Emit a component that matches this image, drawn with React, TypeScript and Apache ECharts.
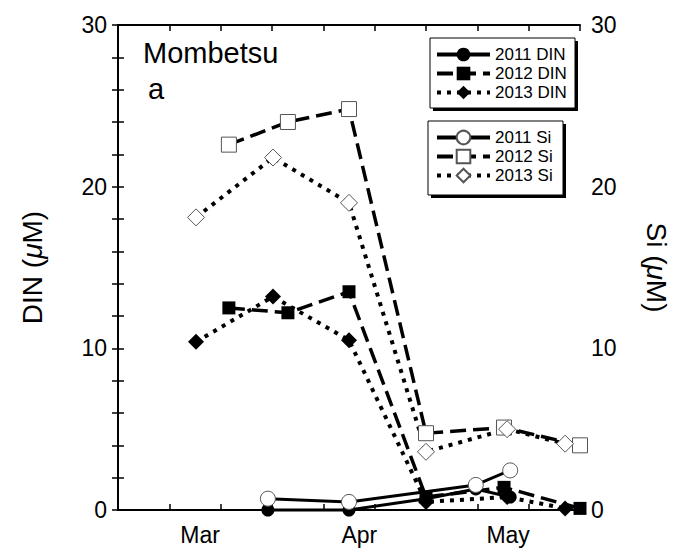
import React, { useEffect, useRef } from 'react';
import * as echarts from 'echarts';

const FONT = '"Liberation Sans", Arial, Helvetica, sans-serif';

// x values are days counted from 1 March
const monthNames = ['Mar', 'Apr', 'May'];
const monthCentres = [16, 47, 76];

const yTicks = [0, 10, 20, 30];

const days2011Din = [29.2, 45, 60, 69.7, 76.4];
const din2011 = [0, 0, 0.7, 1.3, 0.8];
const days2011Si = [29.2, 45, 69.7, 76.4];
const si2011 = [0.7, 0.5, 1.55, 2.45];

const days2012 = [21.6, 33.1, 45, 60, 75.2, 90];
const din2012 = [12.5, 12.2, 13.5, 0.8, 1.4, 0.1];
const si2012 = [22.6, 24.0, 24.8, 4.75, 5.1, 4.0];

const days2013 = [15.2, 30.2, 45, 60, 75.8, 87.1];
const din2013 = [10.4, 13.2, 10.5, 0.5, 0.8, 0.1];
const si2013 = [18.1, 21.8, 19.0, 3.6, 5.0, 4.1];

const dinNames = ['2011 DIN', '2012 DIN', '2013 DIN'];
const siNames = ['2011 Si', '2012 Si', '2013 Si'];

const pairs = (xs: number[], ys: number[]) => xs.map((x, i) => [x, ys[i]]);

const SOLID = 'solid';
const DASHED = [16, 7];
const DOTTED = [4, 6];

function lineSeries(
  name: string,
  data: number[][],
  axis: number,
  symbol: string,
  size: number,
  dash: any,
  width: number,
  open: boolean
) {
  return {
    name,
    type: 'line',
    xAxisIndex: 0,
    yAxisIndex: axis,
    data,
    symbol,
    symbolSize: size,
    showSymbol: true,
    clip: false,
    lineStyle: { color: '#000', width, type: dash, cap: 'butt' },
    itemStyle: open
      ? { color: '#fff', borderColor: '#555', borderWidth: 1, opacity: 1 }
      : { color: '#000', borderColor: '#000', borderWidth: 0, opacity: 1 },
    emphasis: { disabled: true },
    z: open ? 3 : 2,
  };
}

const yAxisBase = {
  type: 'value',
  min: yTicks[0],
  max: yTicks[yTicks.length - 1],
  interval: yTicks[1] - yTicks[0],
  axisLine: { show: true, lineStyle: { color: '#000', width: 2 } },
  axisTick: { show: true, inside: true, length: 6, lineStyle: { color: '#000', width: 1.5 } },
  minorTick: { show: true, splitNumber: 5, length: 6, lineStyle: { color: '#000', width: 1.5 } },
  splitLine: { show: false },
  axisLabel: { color: '#000', fontSize: 23, fontFamily: FONT, margin: 11 },
  nameLocation: 'middle',
  nameTextStyle: {
    color: '#000',
    fontSize: 28,
    fontFamily: FONT,
    rich: { i: { fontStyle: 'italic', fontSize: 28, fontFamily: FONT, color: '#000' } },
  },
};

const xAxisBase = {
  type: 'value',
  min: 0,
  max: 90,
  interval: 10,
  axisLine: { show: true, onZero: false, lineStyle: { color: '#000', width: 2 } },
  axisTick: { show: true, inside: true, length: 6, lineStyle: { color: '#000', width: 1.5 } },
  axisLabel: { show: false },
  splitLine: { show: false },
};

const legendBase = {
  orient: 'vertical',
  backgroundColor: 'transparent',
  borderWidth: 0,
  padding: 0,
  itemWidth: 53,
  itemHeight: 17,
  itemGap: 2,
  selectedMode: false,
  z: 10,
  lineStyle: { width: 4 },
  textStyle: { color: '#000', fontSize: 17, fontFamily: FONT },
};

// framed legend panel with a solid drop shadow
function legendFrame(x: number, y: number, w: number, h: number) {
  return [
    { type: 'rect', z: 1, shape: { x: x + 3, y: y + 3, width: w, height: h }, style: { fill: '#000' } },
    {
      type: 'rect',
      z: 2,
      shape: { x, y, width: w, height: h },
      style: { fill: '#fff', stroke: '#000', lineWidth: 1 },
    },
  ];
}

export default function App() {
  const ref = useRef<HTMLDivElement>(null);

  useEffect(() => {
    const chart = echarts.init(ref.current!, null, { renderer: 'svg' });
    const option: any = {
      animation: false,
      backgroundColor: '#fff',
      grid: { left: 118, top: 25, right: 98, bottom: 48, containLabel: false },
      xAxis: [
        { ...xAxisBase, position: 'bottom' },
        { ...xAxisBase, position: 'top' },
        {
          type: 'value',
          position: 'bottom',
          min: 0,
          max: 90,
          interval: 1,
          axisLine: { show: false },
          axisTick: { show: false },
          splitLine: { show: false },
          axisLabel: {
            show: true,
            color: '#000',
            fontSize: 23,
            fontFamily: FONT,
            margin: 13,
            formatter: (v: number) => {
              const idx = monthCentres.indexOf(Math.round(v));
              return idx >= 0 ? monthNames[idx] : '';
            },
          },
        },
      ],
      yAxis: [
        { ...yAxisBase, position: 'left', name: 'DIN ({i|μ}M)', nameGap: 72, nameRotate: 90 },
        { ...yAxisBase, position: 'right', name: 'Si ({i|μ}M)', nameGap: 62, nameRotate: -90 },
      ],
      legend: [
        { ...legendBase, left: 435, top: 46, data: dinNames },
        { ...legendBase, left: 435, top: 129, data: siNames },
      ],
      graphic: [
        ...legendFrame(430, 38, 145, 70),
        ...legendFrame(428, 121, 135, 74),
        {
          type: 'text',
          left: 143,
          top: 38,
          style: { text: 'Mombetsu', fontSize: 29, fontFamily: FONT, fill: '#000' },
        },
        {
          type: 'text',
          left: 148,
          top: 74,
          style: { text: 'a', fontSize: 29, fontFamily: FONT, fill: '#000' },
        },
      ],
      series: [
        lineSeries(dinNames[0], pairs(days2011Din, din2011), 0, 'circle', 13, SOLID, 3, false),
        lineSeries(dinNames[1], pairs(days2012, din2012), 0, 'rect', 13, DASHED, 3.5, false),
        lineSeries(dinNames[2], pairs(days2013, din2013), 0, 'diamond', 16, DOTTED, 4, false),
        lineSeries(siNames[0], pairs(days2011Si, si2011), 1, 'circle', 15, SOLID, 3, true),
        lineSeries(siNames[1], pairs(days2012, si2012), 1, 'rect', 15, DASHED, 3.5, true),
        lineSeries(siNames[2], pairs(days2013, si2013), 1, 'diamond', 17, DOTTED, 4, true),
      ],
    };
    chart.setOption(option);
    return () => chart.dispose();
  }, []);

  return (
    <div
      ref={ref}
      style={{ position: 'fixed', left: 0, top: 0, width: 678, height: 558, background: '#fff' }}
    />
  );
}
